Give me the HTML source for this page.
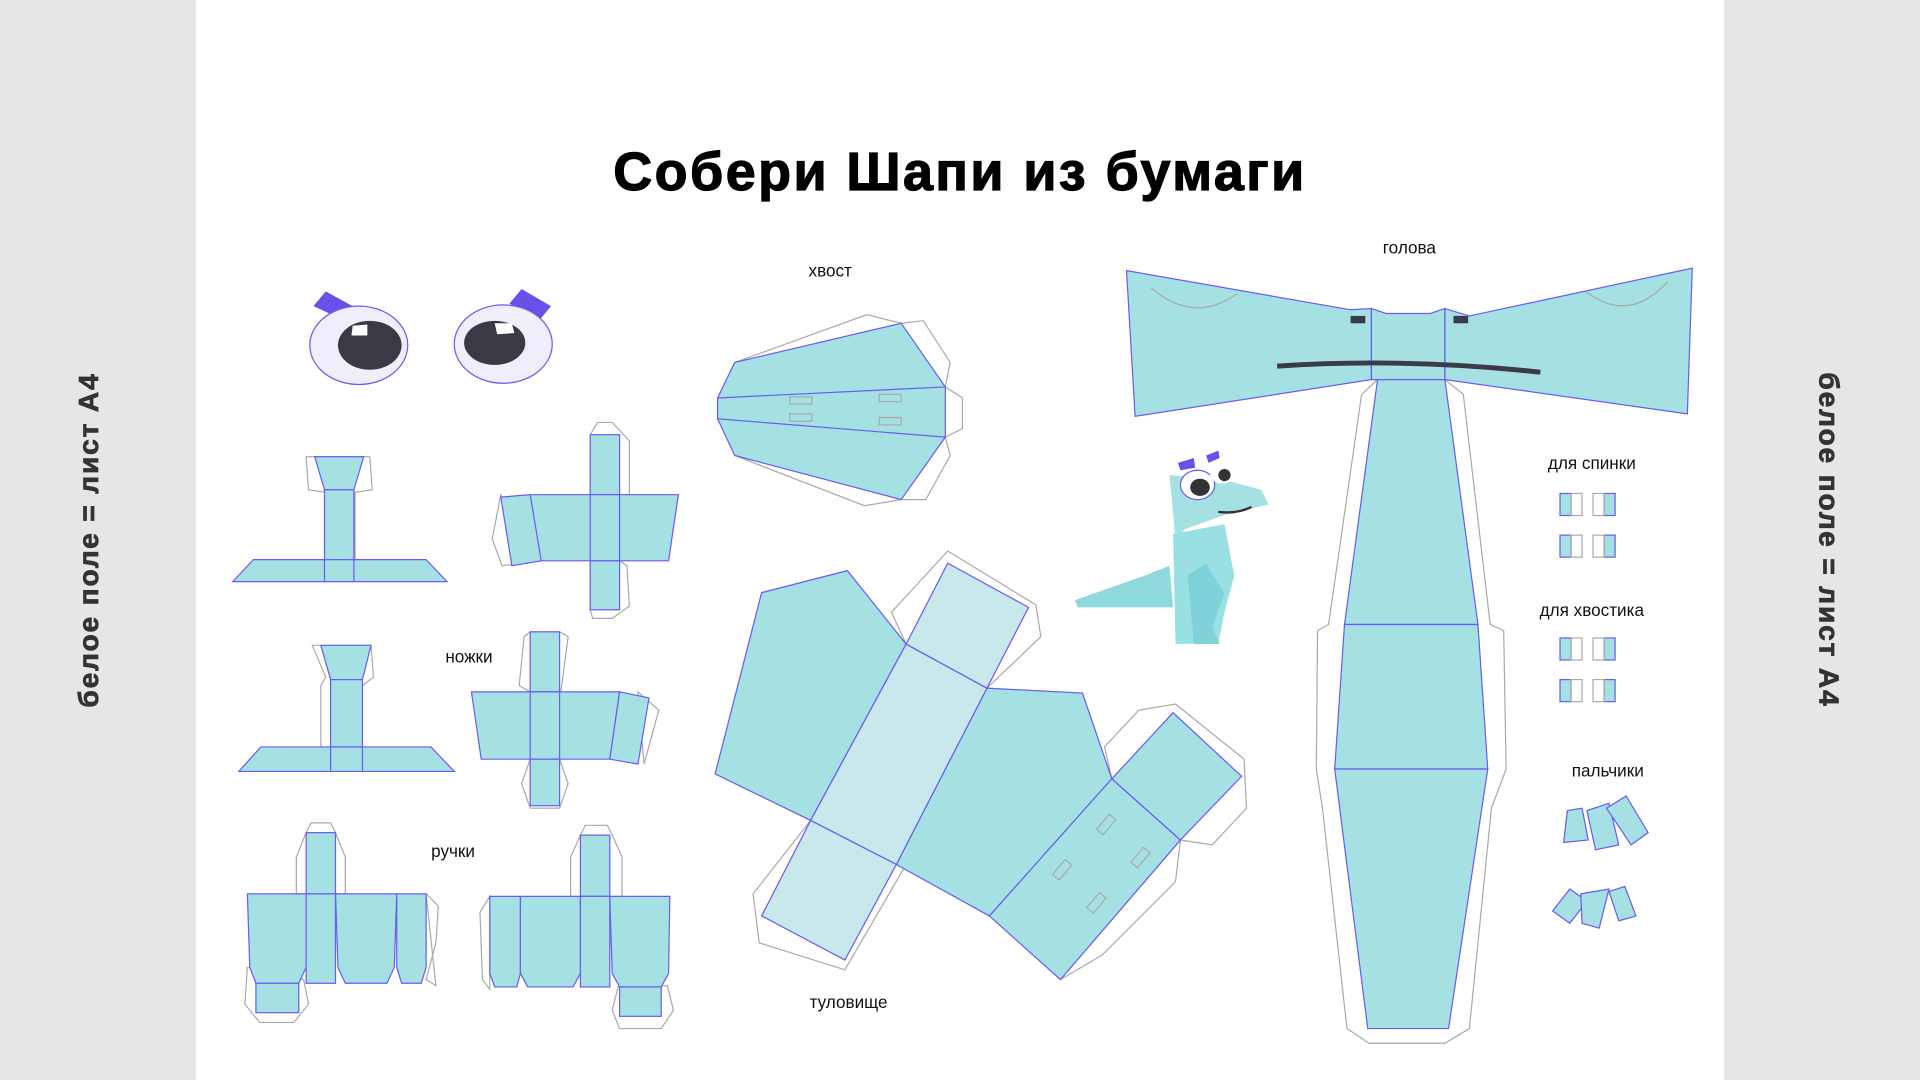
<!DOCTYPE html>
<html><head><meta charset="utf-8"><style>html,body{margin:0;padding:0;background:#fff}svg{display:block}</style></head>
<body>
<svg width="1920" height="1080" viewBox="0 0 1568 882" xmlns="http://www.w3.org/2000/svg" font-family="Liberation Sans, sans-serif">
<rect x="0" y="0" width="160" height="882" fill="#e6e6e6"/>
<rect x="1408" y="0" width="160" height="882" fill="#e6e6e6"/>
<text x="784" y="155" text-anchor="middle" font-size="44" font-weight="bold" letter-spacing="2" stroke="#000" stroke-width="1" fill="#000">Собери Шапи из бумаги</text>
<text transform="translate(80,441) rotate(-90)" text-anchor="middle" font-size="23" font-weight="bold" letter-spacing="1.5" fill="#333" stroke="#333" stroke-width="0.6">белое поле = лист А4</text>
<text transform="translate(1486,441) rotate(90)" text-anchor="middle" font-size="23" font-weight="bold" letter-spacing="1.5" fill="#333" stroke="#333" stroke-width="0.6">белое поле = лист А4</text>

<g font-size="14" fill="#111" text-anchor="middle">
<text x="678" y="226">хвост</text>
<text x="1151" y="207">голова</text>
<text x="1300" y="383">для спинки</text>
<text x="1300" y="503">для хвостика</text>
<text x="1313" y="634">пальчики</text>
<text x="383" y="541">ножки</text>
<text x="370" y="700">ручки</text>
<text x="693" y="823">туловище</text>
</g>

<g fill="none" stroke="#aaa" stroke-width="1">
<polygon points="600,296 708,257 736,264 754,262 776,296 772,316 786,325 786,350 772,357 776,372 756,408 736,408 706,413 600,372"/>
<polygon points="1125,310 1112,322 1085,510 1076,515 1075,628 1080,660 1100,840 1118,852 1180,852 1200,840 1218,660 1230,628 1228,515 1217,510 1195,322 1180,310"/>
<polygon points="740,526 728,500 774,450 846,494 850,520 806,562"/>
<polygon points="662,670 615,730 620,770 690,792 740,706"/>
<polygon points="908,636 902,610 930,580 960,575 1016,620 1018,660 990,690 964,686"/>
<polygon points="866,800 900,780 960,720 964,686"/>
<polygon points="250,373 302,373 304,400 290,402 290,457 266,457 266,402 252,400"/>
<polygon points="482,355 488,345 500,345 514,360 514,404 506,404 506,458 512,462 514,495 500,505 484,505 482,498"/>
<polygon points="409,404 402,440 410,462 442,458"/>
<polygon points="255,527 266,553 262,560 262,610 296,610 296,560 305,553 303,527"/>
<polygon points="433,516 428,520 424,560 433,565 458,565 464,520 457,516"/>
<polygon points="521,565 538,580 526,624"/>
<polygon points="433,620 426,640 433,660 457,660 464,640 457,620"/>
<polygon points="250,680 242,700 242,730 282,730 282,700 274,680 270,672 254,672"/>
<polygon points="202,790 200,820 212,835 240,835 252,820 248,800"/>
<polygon points="348,730 358,740 356,770 348,800 356,805"/>
<polygon points="474,682 466,700 466,732 508,732 508,700 500,682 496,674 478,674"/>
<polygon points="505,805 500,825 506,840 540,840 550,825 545,805"/>
<polygon points="400,732 392,745 394,800 400,808"/>
</g>

<g fill="#a5e1e3" stroke="#6a5cf0" stroke-width="1">
<polygon points="600,296 736,264 772,316 772,357 736,408 600,372 586,342 586,325"/>
<polyline points="586,325 772,316" fill="none"/>
<polyline points="586,342 772,357" fill="none"/>
<polygon points="920,221 1103,253 1120,252 1120,310 927,340"/>
<polygon points="1120,252 1132,256 1168,256 1180,252 1180,310 1120,310"/>
<polygon points="1180,252 1200,258 1382,219 1378,338 1180,310"/>
<polygon points="1125,310 1180,310 1207,510 1098,510"/>
<polygon points="1098,510 1207,510 1215,628 1090,628"/>
<polygon points="1090,628 1215,628 1183,840 1117,840"/>
<polygon points="584,632 622,484 692,466 740,526 662,670"/>
<polygon points="806,562 884,566 908,636 808,748 732,706"/>
<polygon points="808,748 908,636 964,686 866,800"/>
<polygon points="908,636 958,582 1014,634 964,686"/>
</g>
<g fill="#c8e8ec" stroke="#6a5cf0" stroke-width="1">
<polygon points="740,526 806,562 732,706 662,670"/>
<polygon points="740,526 774,460 840,496 806,562"/>
<polygon points="662,670 732,706 690,784 622,748"/>
</g>
<g fill="none" stroke="#aaa" stroke-width="1">
<rect x="645" y="324" width="18" height="6"/><rect x="645" y="338" width="18" height="6"/>
<rect x="718" y="322" width="18" height="6"/><rect x="718" y="341" width="18" height="6"/>
<path d="M940,235 Q975,265 1010,240"/><path d="M1295,238 Q1330,265 1362,230"/>
<rect x="895" y="670" width="16" height="7" transform="rotate(-50 903 673)"/>
<rect x="923" y="697" width="16" height="7" transform="rotate(-50 931 700)"/>
<rect x="859" y="707" width="16" height="7" transform="rotate(-50 867 710)"/>
<rect x="887" y="734" width="16" height="7" transform="rotate(-50 895 737)"/>
</g>
<path d="M1043,299 Q1150,292 1258,304" stroke="#3a3a48" stroke-width="4" fill="none"/>
<rect x="1103" y="258" width="12" height="6" fill="#3a3a48"/>
<rect x="1187" y="258" width="12" height="6" fill="#3a3a48"/>

<g fill="#a5e1e3" stroke="#6a5cf0" stroke-width="1">
<polygon points="257,373 297,373 289,400 265,400"/>
<rect x="265" y="400" width="24" height="57"/>
<polygon points="190,475 207,457 348,457 365,475"/>
<line x1="265" y1="457" x2="265" y2="475"/><line x1="289" y1="457" x2="289" y2="475"/>
<rect x="482" y="355" width="24" height="49"/>
<polygon points="433,404 554,404 546,458 433,458"/>
<line x1="482" y1="404" x2="482" y2="458"/><line x1="506" y1="404" x2="506" y2="458"/>
<polygon points="409,406 433,404 442,458 418,462"/>
<rect x="482" y="458" width="24" height="40"/>
<polygon points="262,527 303,527 296,555 270,555"/>
<rect x="270" y="555" width="26" height="55"/>
<polygon points="195,630 213,610 352,610 371,630"/>
<line x1="270" y1="610" x2="270" y2="630"/><line x1="296" y1="610" x2="296" y2="630"/>
<rect x="433" y="516" width="24" height="49"/>
<polygon points="385,565 506,565 498,620 393,620"/>
<line x1="433" y1="565" x2="433" y2="620"/><line x1="457" y1="565" x2="457" y2="620"/>
<polygon points="506,565 530,570 521,624 498,620"/>
<rect x="433" y="620" width="24" height="38"/>
</g>
<g fill="#a5e1e3" stroke="#6a5cf0" stroke-width="1">
<rect x="250" y="680" width="24" height="50"/>
<polygon points="202,730 250,730 250,790 244,803 209,803 204,790"/>
<rect x="250" y="730" width="24" height="73"/>
<polygon points="274,730 324,730 322,790 316,803 282,803 276,790"/>
<polygon points="324,730 348,730 348,790 344,803 328,803 324,790"/>
<rect x="209" y="803" width="35" height="24"/>
<rect x="474" y="682" width="24" height="50"/>
<polygon points="400,732 425,732 425,795 422,806 404,806 400,795"/>
<polygon points="425,732 474,732 474,795 468,806 431,806 425,795"/>
<rect x="474" y="732" width="24" height="74"/>
<polygon points="498,732 547,732 546,795 540,806 506,806 500,795"/>
<rect x="506" y="806" width="34" height="24"/>
</g>
<g>
<polygon points="256,250 266,238 288,250 282,262" fill="#6a50e8"/>
<ellipse cx="293" cy="282" rx="40" ry="32" fill="#efeefa" stroke="#6a5cf0"/>
<ellipse cx="302" cy="282" rx="26" ry="20" fill="#3a3a44"/>
<polygon points="288,266 300,265 300,274 287,274" fill="#fff"/>
<polygon points="416,248 426,236 450,250 440,262" fill="#6a50e8"/>
<ellipse cx="411" cy="281" rx="40" ry="32" fill="#efeefa" stroke="#6a5cf0"/>
<ellipse cx="404" cy="280" rx="25" ry="18" fill="#3a3a44"/>
<polygon points="404,264 418,264 420,272 406,273" fill="#fff"/>
</g>
<g fill="#a5e1e3" stroke="#6a5cf0" stroke-width="1">
<rect x="1274" y="403" width="9" height="18"/><rect x="1310" y="403" width="9" height="18"/>
<rect x="1274" y="437" width="9" height="18"/><rect x="1310" y="437" width="9" height="18"/>
<rect x="1274" y="521" width="9" height="18"/><rect x="1310" y="521" width="9" height="18"/>
<rect x="1274" y="555" width="9" height="18"/><rect x="1310" y="555" width="9" height="18"/>
<polygon points="1280,662 1292,660 1297,686 1277,688"/>
<polygon points="1296,662 1314,656 1322,690 1303,694"/>
<polygon points="1312,660 1328,650 1346,680 1332,690"/>
<polygon points="1268,744 1282,726 1296,736 1282,754"/>
<polygon points="1291,730 1314,726 1306,758 1292,754"/>
<polygon points="1314,728 1327,724 1336,748 1322,752"/>
</g>
<g fill="none" stroke="#aaa"><rect x="1283" y="403" width="9" height="18"/><rect x="1301" y="403" width="9" height="18"/><rect x="1283" y="437" width="9" height="18"/><rect x="1301" y="437" width="9" height="18"/><rect x="1283" y="521" width="9" height="18"/><rect x="1301" y="521" width="9" height="18"/><rect x="1283" y="555" width="9" height="18"/><rect x="1301" y="555" width="9" height="18"/></g>
<g>
<polygon points="878,490 935,470 955,462 958,496 936,496 880,496" fill="#8fd8de"/>
<polygon points="955,388 1000,392 1030,400 1036,412 1002,420 968,432 960,440" fill="#a5e1e3"/>
<polygon points="958,436 1000,428 1008,470 1000,500 995,525 960,526" fill="#9adfe2"/>
<polygon points="970,470 985,460 1000,485 990,512 996,526 975,526" fill="#7fd3d8"/>
<ellipse cx="978" cy="396" rx="14" ry="12" fill="#fff" stroke="#6a5cf0"/>
<ellipse cx="980" cy="398" rx="8" ry="7" fill="#333"/>
<ellipse cx="998" cy="386" rx="10" ry="9" fill="#fff"/>
<ellipse cx="1000" cy="388" rx="5" ry="5" fill="#333"/>
<polygon points="962,378 975,374 976,382 964,384" fill="#6a50e8"/>
<polygon points="985,372 995,368 996,374 987,378" fill="#6a50e8"/>
<path d="M995,418 Q1010,420 1022,414" stroke="#333" stroke-width="2" fill="none"/>
</g>
</svg>
</body></html>
